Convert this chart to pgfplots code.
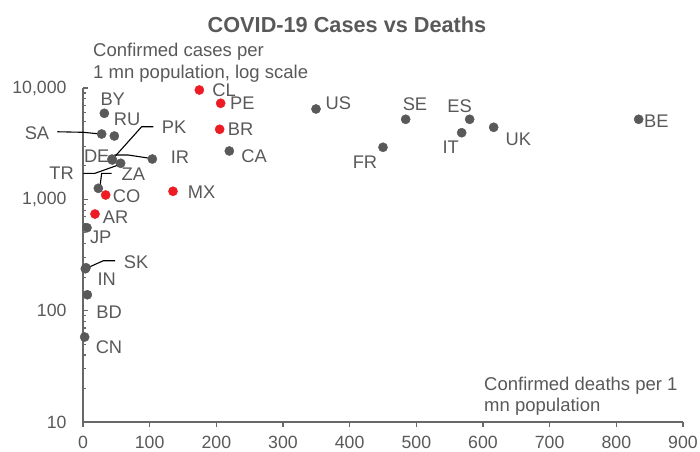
\documentclass[border=0pt]{standalone}
\usepackage{fontspec}
\setmainfont{Liberation Sans}
\usepackage{pgfplots}
\usepackage{pgfplotstable}
\pgfplotsset{compat=1.18}
\definecolor{txt}{HTML}{595959}
\definecolor{dot}{HTML}{595959}
\definecolor{reddot}{HTML}{ED1C24}
\definecolor{axc}{HTML}{686868}

\pgfplotstableread{
label x y dx ys
BY 32 5925 8.4 14.6
SA 28 3862 -64.7 0.7
RU 47 3706 12.7 16.3
DE 44 2256 -15.6 3.7
PK 43.5 2300 62 31.9
TR 56.5 2107 -59 -10
IR 104 2302 27.7 1.7
ZA 23 1256 35 14.3
JP 6 556 13.7 -9.6
SK 4.5 243 50 6
IN 3.5 238 21.4 -10.3
BD 6.5 139 21.7 -17
CN 2.5 58 24.3 -9.7
CA 219.5 2718 24.7 -5
US 349.5 6478 22.3 5.3
SE 484 5234 9.3 15.3
ES 580 5234 -10 13
IT 568 3967 -11 -14.3
UK 616 4436 24.6 -12.4
FR 450 2934 -18 -14.7
BE 833.5 5234 17.6 -2.4
}\graydata

\pgfplotstableread{
label x y dx ys
CL 174.5 9594 24.7 0
PE 206.5 7289 21.6 0.3
BR 205 4256 21 0.3
MX 135 1181 28.7 -1
CO 34 1094 21 -1
AR 18 738 20.7 -3.3
}\reddata

\begin{document}
\begin{tikzpicture}
\path[use as bounding box] (0pt,0pt) rectangle (700pt,451pt);
\begin{axis}[
  at={(83pt,29pt)}, anchor=south west,
  scale only axis, width=600pt, height=334pt,
  xmin=0, xmax=900, ymode=log, ymin=10, ymax=10000,
  axis lines*=left,
  clip=false,
  axis line style={axc, line width=1.3pt},
  xtick={0,100,...,900},
  ytick={10,100,1000,10000},
  yticklabels={10,100,{1,000},{10,000}},
  minor ytick={},
  x tick style={axc, line width=1.2pt},
  y tick style={axc, line width=1.2pt},
  xtick align=outside, ytick align=inside,
  major tick length=5pt,
  tick label style={font=\fontsize{17.7}{20}\selectfont, text=txt},
  /pgf/number format/assume math mode=true,
  xticklabel style={yshift=-5.5pt},
  yticklabel style={xshift=-13pt},
]
\addplot[only marks, mark=*, mark size=4.6pt, color=dot,
  point meta=explicit symbolic,
  nodes near coords,
  visualization depends on={\thisrow{dx} \as \dx},
  visualization depends on={\thisrow{ys} \as \ys},
  every node near coord/.append style={anchor=center, xshift=\dx pt, yshift=\ys pt,
     font=\fontsize{18.3}{20}\selectfont, text=txt, inner sep=0pt}
] table[x=x, y=y, meta=label] {\graydata};
\addplot[only marks, mark=*, mark size=4.6pt, color=reddot,
  point meta=explicit symbolic,
  nodes near coords,
  visualization depends on={\thisrow{dx} \as \dx},
  visualization depends on={\thisrow{ys} \as \ys},
  every node near coord/.append style={anchor=center, xshift=\dx pt, yshift=\ys pt,
     font=\fontsize{18.3}{20}\selectfont, text=txt, inner sep=0pt}
] table[x=x, y=y, meta=label] {\reddata};
% leader lines
\addplot[black, line width=1.1pt, no marks] coordinates {(-38.5,4045) (0.5,4000) (25.5,3865)};
\addplot[black, line width=1.1pt, no marks] coordinates {(105.5,4490) (88,4490) (45.5,2336)};
\addplot[black, line width=1.1pt, no marks] coordinates {(47,2500) (68,2500) (100.5,2336)};
\addplot[black, line width=1.1pt, no marks] coordinates {(0.5,1713) (18,1713) (53,2034)};
\addplot[black, line width=1.1pt, no marks] coordinates {(43,1713) (28,1713) (25.5,1299)};
\addplot[black, line width=1.1pt, no marks] coordinates {(5,240) (30.5,281) (48,281)};
\end{axis}
\node[anchor=base, font=\bfseries\fontsize{21.7}{24}\selectfont, text=txt] at (347pt,418pt) {COVID-19 Cases vs Deaths};
\node[anchor=base west, inner sep=0pt, font=\fontsize{18.5}{20}\selectfont, text=txt] at (93pt,395pt) {Confirmed cases per};
\node[anchor=base west, inner sep=0pt, font=\fontsize{18.5}{20}\selectfont, text=txt] at (93pt,372.5pt) {1 mn population, log scale};
\node[anchor=base west, inner sep=0pt, font=\fontsize{18.5}{20}\selectfont, text=txt] at (484pt,61pt) {Confirmed deaths per 1};
\node[anchor=base west, inner sep=0pt, font=\fontsize{18.5}{20}\selectfont, text=txt] at (484pt,39.5pt) {mn population};
\end{tikzpicture}
\end{document}
